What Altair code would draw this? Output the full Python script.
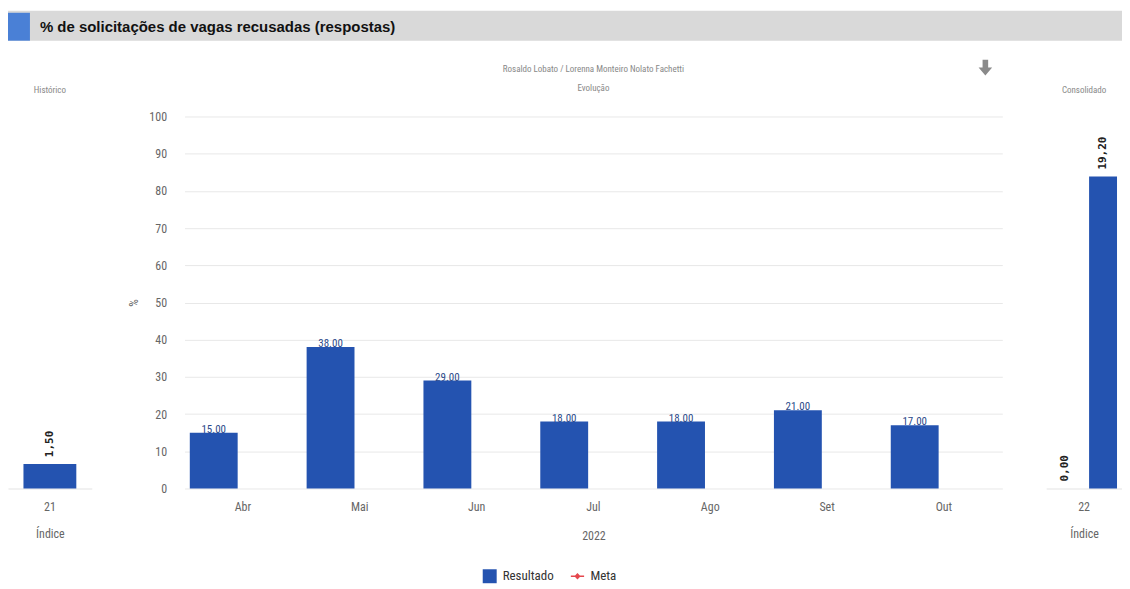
import altair as alt
import pandas as pd

# ---------------- data ----------------
titulo = "% de solicitações de vagas recusadas (respostas)"
responsaveis = "Rosaldo Lobato / Lorenna Monteiro Nolato Fachetti"
meses = ["Abr", "Mai", "Jun", "Jul", "Ago", "Set", "Out"]
resultado = [15.0, 38.0, 29.0, 18.0, 18.0, 21.0, 17.0]
series = ["Resultado", "Meta"]
ano = "2022"
y_ticks = [0, 10, 20, 30, 40, 50, 60, 70, 80, 90, 100]

hist_categoria = ["21"]
hist_valores = [1.50]

cons_categoria = ["22", "22"]
cons_series = ["Meta", "Resultado"]
cons_valores = [0.00, 19.20]

# ---------------- style ----------------
BLUE = "#2453b0"
RED = "#e5474d"
TXT = "#666666"
FONT = "Liberation Sans Narrow, Roboto Condensed, Liberation Sans, sans-serif"
SIDE_MAX = 22.9
H = 373

main_df = pd.DataFrame({"mes": meses, "valor": resultado, "serie": ["Resultado"] * len(meses)})
hist_df = pd.DataFrame({"cat": hist_categoria, "valor": hist_valores})
cons_df = pd.DataFrame({"cat": cons_categoria, "serie": cons_series, "valor": cons_valores})

META_PATH = "M-0.95,-0.1H0.95V0.1H-0.95Z M0,-0.45L0.45,0L0,0.45L-0.45,0Z"

legend_kw = dict(
    orient="none", legendX=476, legendY=562, direction="horizontal", title=None,
    labelFont=FONT, labelFontSize=13, labelColor="#333333", symbolSize=196,
    columnPadding=16, labelOffset=6, symbolStrokeWidth=0,
)

# ---------------- header ----------------
hdr_df = pd.DataFrame({"t": [titulo]})
hdr_base = alt.Chart(hdr_df)
header = alt.layer(
    hdr_base.mark_rect(color="#d9d9d9").encode(
        x=alt.value(0), x2=alt.value(1117), y=alt.value(2), y2=alt.value(32)),
    hdr_base.mark_rect(color="#4a80d6").encode(
        x=alt.value(0), x2=alt.value(22), y=alt.value(4), y2=alt.value(32)),
    hdr_base.mark_text(align="left", baseline="middle", font="Liberation Sans",
                       fontWeight="bold", fontSize=15, color="#111111").encode(
        x=alt.value(32), y=alt.value(18), text="t:N"),
    hdr_base.mark_point(shape="M-0.35,-1H0.35V0H0.85L0,1L-0.85,0H-0.35Z", filled=True,
                        color="#8a8a8a", size=256, opacity=1).encode(
        x=alt.value(980), y=alt.value(59)),
).properties(width=1117, height=34)

# ---------------- main panel ----------------
x_main = alt.X(
    "mes:N", sort=meses, scale=alt.Scale(paddingInner=0, paddingOuter=0),
    axis=alt.Axis(title=ano, labelAngle=0, ticks=False, domain=False, grid=False,
                  labelPadding=13, titlePadding=18, labelFontSize=12, titleFontSize=12,
                  labelColor=TXT, titleColor=TXT, labelFont=FONT, titleFont=FONT,
                  titleFontWeight="normal"))
y_main = alt.Y(
    "valor:Q", scale=alt.Scale(domain=[0, 100]),
    axis=alt.Axis(title="%", values=y_ticks, grid=True, gridColor="#e8e8e8",
                  domain=False, ticks=False, labelPadding=18, titlePadding=8,
                  labelFontSize=12, titleFontSize=12, labelColor=TXT, titleColor=TXT,
                  labelFont=FONT, titleFont=FONT, titleFontWeight="normal"))
xoff = alt.XOffset("serie:N", scale=alt.Scale(domain=series, paddingInner=0, paddingOuter=0))
color_enc = alt.Color("serie:N", scale=alt.Scale(domain=series, range=[BLUE, RED]),
                      legend=alt.Legend(**legend_kw))

mbase = alt.Chart(main_df)
main_bars = mbase.mark_bar(size=48).encode(x=x_main, xOffset=xoff, y=y_main, color=color_enc)
main_text = mbase.mark_text(baseline="bottom", dy=2, fontSize=11, font=FONT,
                            color="#2c4a8a").encode(
    x=x_main, xOffset=xoff, y=y_main, text=alt.Text("valor:Q", format=".2f"))
legend_pts = mbase.transform_filter("false").mark_point(filled=True, opacity=1).encode(
    x=x_main, y=y_main,
    color=color_enc,
    shape=alt.Shape("serie:N", scale=alt.Scale(domain=series, range=["square", META_PATH]),
                    legend=alt.Legend(**legend_kw)))

main = alt.layer(main_bars, main_text, legend_pts).properties(
    width=820, height=H,
    title=alt.Title(responsaveis, subtitle="Evolução", fontSize=9, subtitleFontSize=9,
                    font=FONT, subtitleFont=FONT, fontWeight="normal", color="#888888",
                    subtitleColor="#888888", offset=18, subtitlePadding=10, anchor="middle"))

# ---------------- side panels ----------------
def side_x(title):
    return alt.X("cat:N", scale=alt.Scale(paddingInner=0, paddingOuter=0),
                 axis=alt.Axis(title=title, labelAngle=0, ticks=False, domain=True,
                               domainColor="#e3e3e3", grid=False, labelPadding=13,
                               titlePadding=16, labelFontSize=12, titleFontSize=12,
                               labelColor=TXT, titleColor=TXT, labelFont=FONT,
                               titleFont=FONT, titleFontWeight="normal"))

y_side = alt.Y("valor:Q", scale=alt.Scale(domain=[0, SIDE_MAX]), axis=None)
rot_expr = "replace(format(datum.valor, '.2f'), '.', ',')"
rot_style = dict(angle=270, align="left", baseline="middle", dx=7,
                 font="DejaVu Sans Mono", fontWeight="bold", fontSize=11, color="#222222")

def side_title(t):
    return alt.Title(t, fontSize=9, font=FONT, fontWeight="normal", color="#888888",
                     offset=22, anchor="middle")

hbase = alt.Chart(hist_df).transform_calculate(rot=rot_expr)
hist = alt.layer(
    hbase.mark_bar(size=53, color=BLUE).encode(x=side_x("Índice"), y=y_side),
    hbase.mark_text(**rot_style).encode(x=side_x("Índice"), y=y_side, text="rot:N"),
).properties(width=84, height=H, title=side_title("Histórico"))

xoff_c = alt.XOffset("serie:N", scale=alt.Scale(domain=cons_series, paddingInner=0, paddingOuter=0))
cbase = alt.Chart(cons_df).transform_calculate(rot=rot_expr)
cons = alt.layer(
    cbase.mark_bar(size=28, color=BLUE).encode(x=side_x("Índice"), xOffset=xoff_c, y=y_side),
    cbase.mark_text(**rot_style).encode(x=side_x("Índice"), xOffset=xoff_c, y=y_side,
                                        text="rot:N"),
).properties(width=76, height=H, title=side_title("Consolidado"))

inner = alt.hconcat(hist, main, spacing=36).resolve_scale(
    xOffset="independent", y="independent")
body = alt.hconcat(inner, cons, spacing=44).resolve_scale(
    xOffset="independent", y="independent")

chart = alt.vconcat(header, body, spacing=74, bounds="flush").properties(padding=0).configure(
    font=FONT).configure_view(stroke=None)

chart.save("out.html", embed_options={"renderer": "svg", "actions": False})
